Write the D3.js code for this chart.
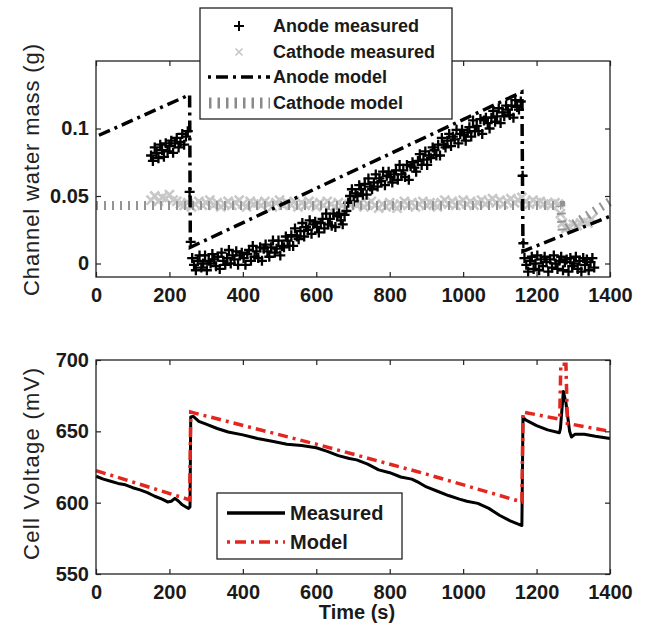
<!DOCTYPE html>
<html lang="en">
<head>
<meta charset="utf-8">
<title>Channel water mass and cell voltage</title>
<script src="https://d3js.org/d3.v7.min.js"></script>
<style>
  body { margin: 0; background: #fff; }
  text { font-family: "Liberation Sans", Arial, sans-serif; font-weight: bold; fill: #1a1a1a; }
  text.ytitle { font-weight: normal; fill: #222; }
</style>
</head>
<body>
<script>
var w = 646, h = 633;

// tick values
var timeTicks = [0, 200, 400, 600, 800, 1000, 1200, 1400];
var massTicks = [0, 0.05, 0.1];
var voltTicks = [550, 600, 650, 700];

// anode measured (g), sampled every 5 s
var anodeMeasA = [0.080, 0.076, 0.086, 0.082, 0.078, 0.088, 0.084, 0.079, 0.089, 0.083,
  0.087, 0.091, 0.082, 0.089, 0.093, 0.086, 0.090, 0.096, 0.088, 0.094, 0.098];   // from 150 s
var anodeMeasB = [
  0.004, -0.001, -0.005, 0.002, 0.006, -0.003, 0.000, 0.006, -0.005, 0.002,
  0.000, 0.007, 0.003, -0.002, 0.005, -0.004, 0.008, 0.002, -0.001, 0.004,
  0.010, 0.000, 0.006, 0.003, 0.009, -0.001, 0.006, 0.008, 0.004, -0.001,
  0.007, 0.010, 0.002, 0.013, 0.005, 0.009, 0.004, 0.012, 0.002, 0.011,
  0.014, 0.009, 0.005, 0.012, 0.017, 0.008, 0.011, 0.017, 0.006, 0.013,
  0.012, 0.020, 0.017, 0.013, 0.021, 0.013, 0.026, 0.020, 0.018, 0.024,
  0.030, 0.020, 0.027, 0.025, 0.032, 0.022, 0.029, 0.031, 0.027, 0.023,
  0.030, 0.033, 0.026, 0.037, 0.029, 0.033, 0.028, 0.037, 0.027, 0.035,
  0.037, 0.032, 0.029, 0.036, 0.039, 0.045, 0.050, 0.055, 0.046, 0.052,
  0.050, 0.058, 0.055, 0.051, 0.059, 0.051, 0.063, 0.057, 0.055, 0.060,
  0.066, 0.057, 0.063, 0.061, 0.068, 0.058, 0.065, 0.068, 0.064, 0.060,
  0.066, 0.069, 0.062, 0.073, 0.066, 0.069, 0.064, 0.073, 0.062, 0.072,
  0.075, 0.071, 0.068, 0.076, 0.081, 0.073, 0.077, 0.083, 0.073, 0.080,
  0.078, 0.086, 0.084, 0.080, 0.088, 0.080, 0.093, 0.088, 0.086, 0.091,
  0.096, 0.087, 0.094, 0.092, 0.099, 0.089, 0.096, 0.099, 0.095, 0.091,
  0.097, 0.101, 0.094, 0.106, 0.098, 0.102, 0.098, 0.107, 0.096, 0.106,
  0.108, 0.104, 0.100, 0.108, 0.113, 0.105, 0.109, 0.115, 0.104, 0.112,
  0.109, 0.117, 0.114, 0.110, 0.117, 0.108, 0.121, 0.116, 0.114, 0.120];           // from 262 s
var anodeMeasC = [
  0.004, -0.001, -0.006, 0.002, 0.005, -0.004, 0.000, 0.006, -0.005, 0.003,
  -0.002, 0.005, 0.001, -0.006, 0.003, -0.003, 0.006, 0.000, -0.004, 0.002,
  0.005, -0.005, 0.001, 0.003, -0.006, 0.004, -0.002, 0.000, 0.005, -0.004,
  0.002, -0.006, 0.004, -0.001, 0.003, -0.005, 0.001, 0.004, -0.003];             // from 1167 s
var anodeJumps = [[255, 0.053], [258, 0.016], [1162, 0.065], [1164, 0.015]];

// cathode measured (g), sampled every 10 s
var cathodeMeasA = [
  0.047, 0.050, 0.046, 0.049, 0.048, 0.051, 0.047, 0.046, 0.044, 0.043,
  0.045, 0.042, 0.044, 0.046, 0.043, 0.045, 0.047, 0.043, 0.045, 0.042,
  0.044, 0.046, 0.043, 0.045, 0.047, 0.044, 0.042, 0.046, 0.044, 0.045,
  0.043, 0.046, 0.044, 0.042, 0.045, 0.047, 0.043, 0.045, 0.044, 0.046,
  0.042, 0.045, 0.043, 0.046, 0.044, 0.042, 0.045, 0.043, 0.046, 0.044,
  0.042, 0.045, 0.043, 0.041, 0.044, 0.046, 0.043, 0.045, 0.042, 0.044,
  0.046, 0.043, 0.041, 0.044, 0.042, 0.045, 0.043, 0.041, 0.044, 0.046,
  0.043, 0.045, 0.042, 0.044, 0.046, 0.043, 0.045, 0.044, 0.042, 0.045,
  0.047, 0.044, 0.046, 0.043, 0.045, 0.047, 0.044, 0.046, 0.043, 0.045,
  0.047, 0.044, 0.046, 0.048, 0.045, 0.047, 0.044, 0.046, 0.048, 0.045,
  0.047, 0.049, 0.046, 0.044, 0.047, 0.045, 0.046, 0.044, 0.045, 0.043,
  0.045, 0.044];                                                                   // from 150 s
var cathodeMeasB = [0.037, 0.030, 0.026, 0.027, 0.029, 0.028, 0.030, 0.031, 0.030, 0.033]; // from 1265 s

// models: [time, value]
var anodeModel = [[8, 0.095], [255, 0.125], [257, 0.012], [1160, 0.127], [1163, 0.009], [1400, 0.035]];
var cathodeModel = [[0, 0.043], [1266, 0.043], [1270, 0.024], [1400, 0.046]];

// cell voltage (mV): [time, value]
var voltMeasured = [[0, 618.5], [20, 616.5], [40, 615], [60, 613.5], [80, 612.5], [100, 610.5],
  [120, 609], [140, 607], [160, 604.5], [180, 602.5], [195, 600.5], [205, 601], [215, 603],
  [225, 601], [235, 598.5], [245, 597], [252, 596], [256, 597], [258, 660], [265, 660.5],
  [280, 657], [300, 655], [330, 652], [360, 649.5], [400, 647.5], [440, 645], [480, 643],
  [520, 641], [560, 640], [600, 638.5], [630, 636], [660, 633], [690, 631], [710, 630],
  [740, 627], [770, 623], [800, 621], [830, 618], [860, 616.5], [880, 614], [900, 611],
  [930, 608], [960, 605], [990, 602.5], [1010, 601], [1040, 599.5], [1070, 596], [1100, 591],
  [1130, 587], [1150, 585], [1160, 584], [1163, 660], [1170, 658], [1200, 654], [1230, 651],
  [1262, 649], [1265, 652], [1273, 678], [1280, 670], [1290, 650], [1295, 646], [1305, 648],
  [1330, 648], [1360, 646.5], [1400, 645]];
var voltModel = [[0, 622.5], [255, 602], [258, 663.5], [600, 641], [900, 620], [1160, 600.5],
  [1163, 663.5], [1263, 658.5], [1266, 697], [1280, 697], [1284, 655.5], [1400, 650]];

function series(start, step, vals) {
  return vals.map(function (v, i) { return [start + i * step, v]; });
}
var anodePts = series(150, 5, anodeMeasA)
  .concat(anodeJumps, series(262, 5, anodeMeasB), series(1167, 5, anodeMeasC));
var cathodePts = series(150, 10, cathodeMeasA).concat(series(1265, 5, cathodeMeasB.slice(0, 1)),
  series(1270, 10, cathodeMeasB.slice(1)));

var plusPath = "M-5,0H5M0,-5V5";
var crossPath = "M-4.5,-4.5L4.5,4.5M-4.5,4.5L4.5,-4.5";
var anodeDash = "12,5,3,5", redDash = "10,5,3,5", cathDash = "2,6";

var svg = d3.select("body").append("svg").attr("width", w).attr("height", h);
svg.append("rect").attr("width", w).attr("height", h).attr("fill", "#fff");

var x = d3.scaleLinear().domain([0, 1400]).range([96, 610]);
var y1 = d3.scaleLinear().domain([-0.01, 0.15]).range([277, 61]);
var y2 = d3.scaleLinear().domain([550, 700]).range([574, 360]);

function frame(y, yTicks, fmt) {
  var top = y.range()[1], bottom = y.range()[0];
  var g = svg.append("g");
  g.append("g").attr("transform", "translate(0," + bottom + ")")
    .call(d3.axisBottom(x).tickValues(timeTicks).tickSizeInner(-5).tickSizeOuter(0)
      .tickPadding(11).tickFormat(d3.format("d")));
  g.append("g").attr("transform", "translate(0," + top + ")")
    .call(d3.axisTop(x).tickValues(timeTicks).tickSizeInner(-5).tickSizeOuter(0).tickFormat(""));
  g.append("g").attr("transform", "translate(96,0)")
    .call(d3.axisLeft(y).tickValues(yTicks).tickSizeInner(-5).tickSizeOuter(0).tickPadding(7).tickFormat(fmt));
  g.append("g").attr("transform", "translate(610,0)")
    .call(d3.axisRight(y).tickValues(yTicks).tickSizeInner(-5).tickSizeOuter(0).tickFormat(""));
  g.selectAll(".domain").remove();
  g.selectAll(".tick line").attr("stroke", "#222").attr("stroke-width", 1.2);
  g.selectAll(".tick text").attr("font-size", 20).attr("fill", "#1a1a1a")
    .attr("font-family", null);
  svg.append("rect").attr("x", 96).attr("y", top).attr("width", 514).attr("height", bottom - top)
    .attr("fill", "none").attr("stroke", "#222").attr("stroke-width", 1.3);
}

// ---- top panel
var plot1 = svg.append("g");
plot1.selectAll(".cm").data(cathodePts).enter().append("path")
  .attr("d", crossPath).attr("stroke", "#c8c8c8").attr("stroke-width", 2.6).attr("fill", "none")
  .attr("transform", function (d) { return "translate(" + x(d[0]) + "," + y1(d[1]) + ")"; });
plot1.selectAll(".am").data(anodePts).enter().append("path")
  .attr("d", plusPath).attr("stroke", "#000").attr("stroke-width", 2.3).attr("fill", "none")
  .attr("transform", function (d) { return "translate(" + x(d[0]) + "," + y1(d[1]) + ")"; });

var line1 = d3.line().x(function (d) { return x(d[0]); }).y(function (d) { return y1(d[1]); });
plot1.append("path").datum(cathodeModel).attr("d", line1).attr("fill", "none")
  .attr("stroke", "#949494").attr("stroke-width", 9).attr("stroke-dasharray", cathDash);
plot1.append("path").datum(anodeModel).attr("d", line1).attr("fill", "none")
  .attr("stroke", "#000").attr("stroke-width", 3.5).attr("stroke-dasharray", anodeDash);

frame(y1, massTicks, function (d) { return String(d); });

svg.append("text").attr("class", "ytitle").attr("transform", "translate(39,170) rotate(-90)")
  .attr("text-anchor", "middle").attr("font-size", 22)
  .attr("textLength", 252).attr("lengthAdjust", "spacing")
  .text("Channel water mass (g)");

// top legend
var lg1 = svg.append("g");
lg1.append("rect").attr("x", 200).attr("y", 8).attr("width", 252).attr("height", 111)
  .attr("fill", "#fff").attr("stroke", "#222").attr("stroke-width", 1.3);
var rows1 = [26, 52, 77, 103];
var labels1 = ["Anode measured", "Cathode measured", "Anode model", "Cathode model"];
lg1.append("path").attr("d", "M-5,0H5M0,-5V5").attr("stroke", "#000").attr("stroke-width", 2)
  .attr("transform", "translate(239," + rows1[0] + ")");
lg1.append("path").attr("d", "M-3.5,-3.5L3.5,3.5M-3.5,3.5L3.5,-3.5").attr("stroke", "#c4c4c4")
  .attr("stroke-width", 1.5).attr("transform", "translate(239," + rows1[1] + ")");
lg1.append("line").attr("x1", 208).attr("x2", 270).attr("y1", rows1[2]).attr("y2", rows1[2])
  .attr("stroke", "#000").attr("stroke-width", 3.5).attr("stroke-dasharray", "3,5,12,5");
lg1.append("line").attr("x1", 209).attr("x2", 270).attr("y1", rows1[3]).attr("y2", rows1[3])
  .attr("stroke", "#8a8a8a").attr("stroke-width", 11).attr("stroke-dasharray", "2.5,6");
lg1.selectAll(".lt").data(labels1).enter().append("text")
  .attr("x", 273).attr("y", function (d, i) { return rows1[i]; }).attr("dy", "0.36em")
  .attr("font-size", 18).text(function (d) { return d; });

// ---- bottom panel
var line2 = d3.line().x(function (d) { return x(d[0]); }).y(function (d) { return y2(d[1]); });
svg.append("path").datum(voltMeasured).attr("d", line2).attr("fill", "none")
  .attr("stroke", "#000").attr("stroke-width", 3).attr("stroke-linejoin", "round");
svg.append("path").datum(voltModel).attr("d", line2).attr("fill", "none")
  .attr("stroke", "#e3261e").attr("stroke-width", 3.5).attr("stroke-dasharray", redDash);

frame(y2, voltTicks, function (d) { return String(d); });

svg.append("text").attr("class", "ytitle").attr("transform", "translate(39,464) rotate(-90)")
  .attr("text-anchor", "middle").attr("font-size", 22)
  .attr("textLength", 192).attr("lengthAdjust", "spacing")
  .text("Cell Voltage (mV)");
svg.append("text").attr("x", 357).attr("y", 619).attr("text-anchor", "middle")
  .attr("font-size", 20).text("Time (s)");

// bottom legend
var lg2 = svg.append("g");
lg2.append("rect").attr("x", 217).attr("y", 493).attr("width", 185).attr("height", 66)
  .attr("fill", "#fff").attr("stroke", "#222").attr("stroke-width", 1.3);
lg2.append("line").attr("x1", 227).attr("x2", 285).attr("y1", 513).attr("y2", 513)
  .attr("stroke", "#000").attr("stroke-width", 3.5);
lg2.append("line").attr("x1", 227).attr("x2", 285).attr("y1", 542).attr("y2", 542)
  .attr("stroke", "#e3261e").attr("stroke-width", 3.5).attr("stroke-dasharray", "3,5,11,5");
lg2.selectAll(".lt").data(["Measured", "Model"]).enter().append("text")
  .attr("x", 290).attr("y", function (d, i) { return [513, 542][i]; }).attr("dy", "0.36em")
  .attr("font-size", 20).text(function (d) { return d; });
</script>
</body>
</html>
